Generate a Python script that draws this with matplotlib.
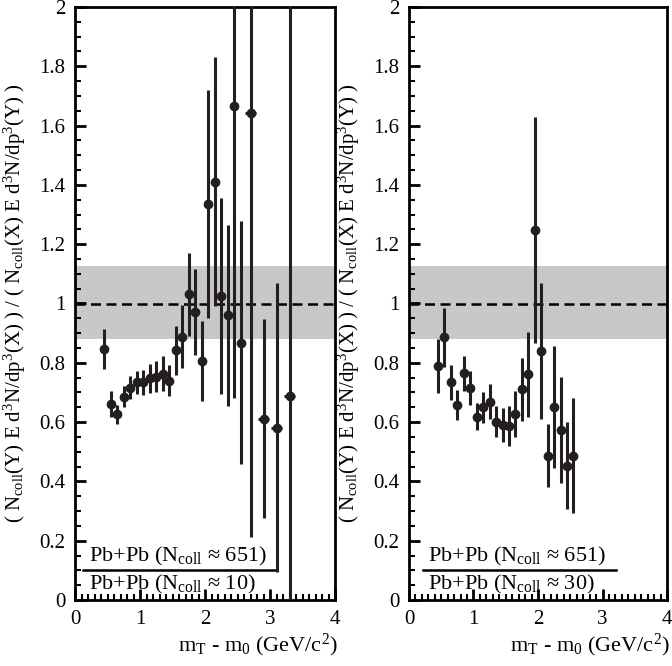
import matplotlib
matplotlib.use('Agg')
import matplotlib.pyplot as plt
from matplotlib.ticker import MultipleLocator, FuncFormatter

# Times-like fonts everywhere
plt.rcParams['font.family'] = ['Liberation Serif', 'DejaVu Serif']
plt.rcParams['mathtext.fontset'] = 'custom'
plt.rcParams['mathtext.rm'] = 'Liberation Serif'
plt.rcParams['mathtext.it'] = 'Liberation Serif:italic'

# left panel: central / peripheral (Ncoll ~ 10)
x_left = [0.45, 0.55, 0.65, 0.75, 0.85, 0.95, 1.05, 1.15, 1.25, 1.35, 1.45,
          1.55, 1.65, 1.75, 1.85, 1.95, 2.05, 2.15, 2.25, 2.35, 2.45, 2.55,
          2.70, 2.90, 3.10, 3.30]
y_left = [0.847, 0.661, 0.626, 0.686, 0.716, 0.734, 0.734, 0.748, 0.753, 0.763,
          0.739, 0.842, 0.888, 1.032, 0.970, 0.806, 1.335, 1.410, 1.025, 0.960,
          1.666, 0.868, 1.641, 0.612, 0.581, 0.688]
yerr_left = [0.068, 0.044, 0.032, 0.036, 0.038, 0.040, 0.043, 0.049, 0.053, 0.059,
             0.052, 0.082, 0.107, 0.140, 0.145, 0.136, 0.385, 0.420, 0.330, 0.305,
             0.984, 0.410, 1.427, 0.337, 0.487, 1.500]
xerr_left = [0.0] * 22 + [0.08, 0.08, 0.08, 0.09]

# right panel: central / (Ncoll ~ 30)
x_right = [0.45, 0.55, 0.65, 0.75, 0.85, 0.95, 1.05, 1.15, 1.25, 1.35, 1.45,
           1.55, 1.65, 1.75, 1.85, 1.95, 2.05, 2.15, 2.25, 2.35, 2.45, 2.55]
y_right = [0.789, 0.886, 0.734, 0.658, 0.764, 0.716, 0.618, 0.650, 0.669, 0.601,
           0.590, 0.587, 0.627, 0.710, 0.761, 1.248, 0.840, 0.487, 0.652, 0.573,
           0.453, 0.487]
yerr_right = [0.092, 0.100, 0.059, 0.050, 0.059, 0.057, 0.045, 0.052, 0.058, 0.052,
              0.058, 0.066, 0.078, 0.106, 0.144, 0.380, 0.230, 0.107, 0.206, 0.180,
              0.147, 0.194]

# systematic band around unity
band = (0.88, 1.125)

num_label = r'Pb+Pb (N$_{\mathrm{coll}}$ ≈ 651)'
den_labels = [r'Pb+Pb (N$_{\mathrm{coll}}$ ≈ 10)', r'Pb+Pb (N$_{\mathrm{coll}}$ ≈ 30)']

ylabel = (r'( N$_{\mathrm{coll}}$(Y) E d$^{3}$N/dp$^{3}$(X) ) / '
          r'( N$_{\mathrm{coll}}$(X) E d$^{3}$N/dp$^{3}$(Y) )')
xlabel = r'm$_{\mathrm{T}}$ - m$_{0}$ (GeV/c$^{2}$)'

fs = 15
col = '#231f20'

fig = plt.figure(figsize=(6.72, 6.66), dpi=100)
ax1 = fig.add_axes([75/672, 66/666, 260/672, 593/666])
ax2 = fig.add_axes([409/672, 66/666, 258/672, 593/666])

panels = [(ax1, x_left, y_left, yerr_left, xerr_left, 0.13, 3.10),
          (ax2, x_right, y_right, yerr_right, None, 0.21, 3.21)]

for i, (ax, x, y, ye, xe, l0, l1) in enumerate(panels):
    ax.axhspan(band[0], band[1], color='#c8c8c8', lw=0, zorder=0)
    ax.axhline(1.0, color='k', lw=1.8, ls=(0, (4, 2.2)), zorder=1)
    ax.errorbar(x, y, yerr=ye, xerr=xe, fmt='o', color=col, ms=6,
                elinewidth=2.2, capsize=0, zorder=3)

    ax.set_xlim(0, 4)
    ax.set_ylim(0, 2)

    # fraction label
    ax.plot([l0, l1], [0.10, 0.10], color='k', lw=1.8, zorder=2)
    ax.text(l0 + 0.08, 0.108, num_label, fontsize=16, ha='left', va='bottom')
    ax.text(l0 + 0.08, 0.092, den_labels[i], fontsize=16, ha='left', va='top')

    # ticks
    ax.xaxis.set_major_locator(MultipleLocator(1))
    ax.xaxis.set_minor_locator(MultipleLocator(0.1))
    ax.yaxis.set_major_locator(MultipleLocator(0.2))
    ax.yaxis.set_minor_locator(MultipleLocator(0.05))
    ax.yaxis.set_major_formatter(FuncFormatter(lambda v, p: '%g' % round(v, 2)))
    ax.tick_params(which='both', direction='in', top=False, right=False,
                   labelsize=fs)
    ax.tick_params(which='major', length=8, width=2, pad=7)
    ax.tick_params(which='minor', length=4, width=1.5)
    for s in ax.spines.values():
        s.set_linewidth(2)

    ax.set_ylabel(ylabel, fontsize=fs, va='center')
    ax.yaxis.set_label_coords(-60/ax.bbox.width, 0.5)
    ax.set_xlabel(xlabel, fontsize=16, ha='right', va='center')
    ax.xaxis.set_label_coords(1.01, -0.077)

fig.savefig('out.png', dpi=100)
